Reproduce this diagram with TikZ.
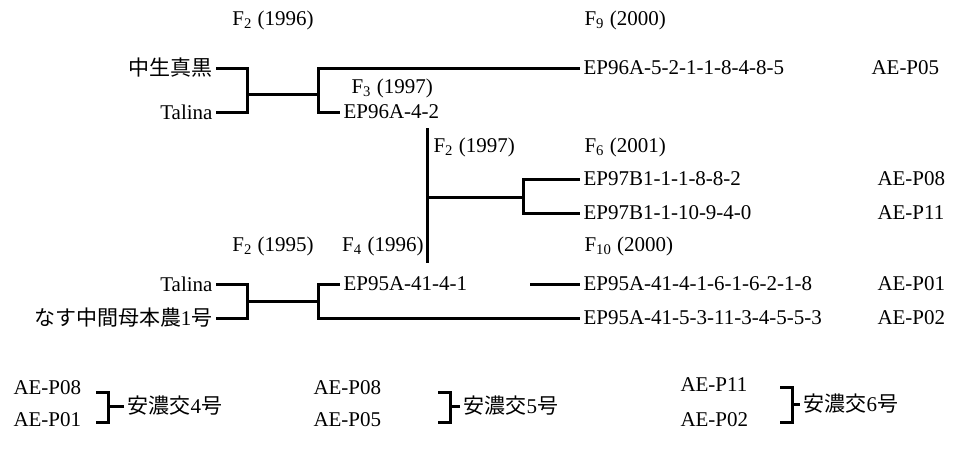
\documentclass[tikz,border=0pt]{standalone}
\usepackage{fontspec}
\setmainfont{Liberation Serif}
\newfontfamily\jp{Noto Sans CJK JP}
\usetikzlibrary{positioning}

\begin{document}
\begin{tikzpicture}[x=0.5pt,y=-0.5pt,line width=1.5pt,
	font=\fontsize{10.5}{12}\selectfont,
	lt/.style={anchor=east,inner sep=1pt},
	rt/.style={anchor=west,inner sep=1pt},
	gen/.style={anchor=west,inner sep=0pt}]
	\useasboundingbox (0,0) rectangle (954,457);
	% generation labels
	\node[inner sep=0pt] (g1) at (273,20) {F\textsubscript{2} (1996)};
	\node[gen] (g2) at (583,20) {F\textsubscript{9} (2000)};
	\node[gen] (g3) at (350,88) {F\textsubscript{3} (1997)};
	\node[gen] (g4) at (432,147) {F\textsubscript{2} (1997)};
	\node[gen] (g5) at (583,147) {F\textsubscript{6} (2001)};
	\node[inner sep=0pt] (g6) at (273,246) {F\textsubscript{2} (1995)};
	\node[gen,anchor=east] (g7) at (425,246) {F\textsubscript{4} (1996)};
	\node[gen] (g8) at (583,246) {F\textsubscript{10} (2000)};
	% parents
	\node[lt] (p1) at (216,68) {\jp 中生真黒};
	\node[lt] (p2) at (216,112) {Talina};
	\node[lt] (p3) at (216,284) {Talina};
	\node[lt] (p4) at (216,318) {{\jp なす中間母本農}1{\jp 号}};
	% lines
	\node[rt] (c1) at (580,68) {EP96A-5-2-1-1-8-4-8-5};
	\node[rt] (c2) at (340,112) {EP96A-4-2};
	\node[rt] (d1) at (340,284) {EP95A-41-4-1};
	\node[rt] (e1) at (580,179) {EP97B1-1-1-8-8-2};
	\node[rt] (e2) at (580,213) {EP97B1-1-10-9-4-0};
	\node[rt] (d3) at (580,284) {EP95A-41-4-1-6-1-6-2-1-8};
	\node[rt] (d2) at (580,318) {EP95A-41-5-3-11-3-4-5-5-3};
	% codes
	\node[rt] (a5) at (868,68) {AE-P05};
	\node[rt] (a8) at (874,179) {AE-P08};
	\node[rt] (a11) at (874,213) {AE-P11};
	\node[rt] (a1) at (874,284) {AE-P01};
	\node[rt] (a2) at (874,318) {AE-P02};
	% junctions
	\coordinate (j1) at (247,94);
	\coordinate (j2) at (318,94);
	\coordinate (j3) at (427,197);
	\coordinate (j4) at (523,197);
	\coordinate (j5) at (247,301);
	\coordinate (j6) at (318,301);
	\coordinate (k1) at (427,128);
	\coordinate (k2) at (427,263);
	\coordinate (k3) at (530,284);
	\draw (p1.east) -| (j1) |- (p2.east);
	\draw (j1) -- (j2);
	\draw (c1.west) -| (j2) |- (c2.west);
	\draw (k1) -- (k2);
	\draw (j3) -- (j4);
	\draw (e1.west) -| (j4) |- (e2.west);
	\draw (p3.east) -| (j5) |- (p4.east);
	\draw (j5) -- (j6);
	\draw (d1.west) -| (j6) |- (d2.west);
	\draw (k3) -- (d3.west);
	% varieties
	\node[rt] (b1) at (10,388) {AE-P08};
	\node[rt] (b2) at (10,420) {AE-P01};
	\node[rt] (v4) at (124,406) {{\jp 安濃交}4{\jp 号}};
	\coordinate (h1) at (96,392);
	\coordinate (h2) at (96,422);
	\draw (h1) -- ++(12,0) |- (h2);
	\draw (v4.west) -- ++(-16,0);
	\node[rt] (b3) at (310,388) {AE-P08};
	\node[rt] (b4) at (310,420) {AE-P05};
	\node[rt] (v5) at (460,406) {{\jp 安濃交}5{\jp 号}};
	\coordinate (h3) at (438,392);
	\coordinate (h4) at (438,422);
	\draw (h3) -- ++(12,0) |- (h4);
	\draw (v5.west) -- ++(-10,0);
	\node[rt] (b5) at (677,385) {AE-P11};
	\node[rt] (b6) at (677,420) {AE-P02};
	\node[rt] (v6) at (800,404) {{\jp 安濃交}6{\jp 号}};
	\coordinate (h5) at (780,387);
	\coordinate (h6) at (780,422);
	\draw (h5) -- ++(12,0) |- (h6);
	\draw (v6.west) -- ++(-8,0);
\end{tikzpicture}
\end{document}
